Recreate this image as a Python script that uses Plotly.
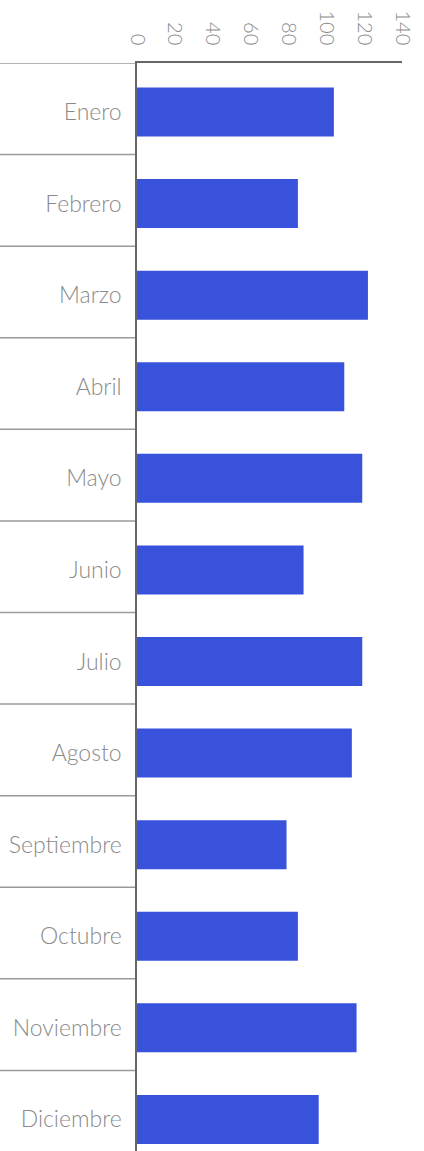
import plotly.graph_objects as go

# Monthly totals
months = ["Enero", "Febrero", "Marzo", "Abril", "Mayo", "Junio",
          "Julio", "Agosto", "Septiembre", "Octubre", "Noviembre", "Diciembre"]
values = [104, 85, 122, 109.5, 119, 88, 119, 113.5, 79, 85, 116, 96]
x_ticks = [0, 20, 40, 60, 80, 100, 120, 140]

W, H = 424, 1151
ML, MR, MT, MB = 137, 22, 63, 0
plot_w = W - ML - MR
shift = 0.035  # rows sit slightly below their separator bands

fig = go.Figure(
    go.Bar(
        x=values,
        y=months,
        orientation="h",
        marker=dict(color="#3852DB", line=dict(width=0)),
        width=0.535,
        hoverinfo="x+y",
    )
)

# Row separators running through the label column
shapes = []
for k in range(len(months) + 1):
    shapes.append(dict(
        type="line", xref="paper", yref="y",
        x0=-ML / plot_w, x1=0, y0=k - 0.5 - shift, y1=k - 0.5 - shift,
        line=dict(color="#9a9a9a", width=1.5), layer="below",
    ))

font_family = "Lato"
fig.update_layout(
    width=W, height=H,
    margin=dict(l=ML, r=MR, t=MT, b=MB, pad=0),
    paper_bgcolor="white", plot_bgcolor="white",
    showlegend=False,
    shapes=shapes,
    font=dict(family=font_family, color="#888888"),
    xaxis=dict(
        side="top",
        range=[0, 140],
        tickvals=x_ticks,
        ticktext=[str(v) for v in x_ticks],
        tickangle=90,
        tickfont=dict(family=font_family, size=20, color="#8a8a8a", weight=300),
        showgrid=False,
        zeroline=False,
        showline=True,
        linecolor="#666666",
        linewidth=1.5,
        ticks="",
        ticklabelstandoff=9,
        fixedrange=True,
    ),
    yaxis=dict(
        categoryorder="array",
        categoryarray=months,
        range=[len(months) - 0.5 - 0.12 - shift, -0.5 - shift],
        tickfont=dict(family=font_family, size=23, color="#8a8a8a", weight=300),
        showgrid=False,
        zeroline=False,
        showline=True,
        linecolor="#666666",
        linewidth=1.5,
        ticks="",
        ticklabelstandoff=9,
        fixedrange=True,
    ),
)

fig.write_html("out.html", config={"displayModeBar": False})
